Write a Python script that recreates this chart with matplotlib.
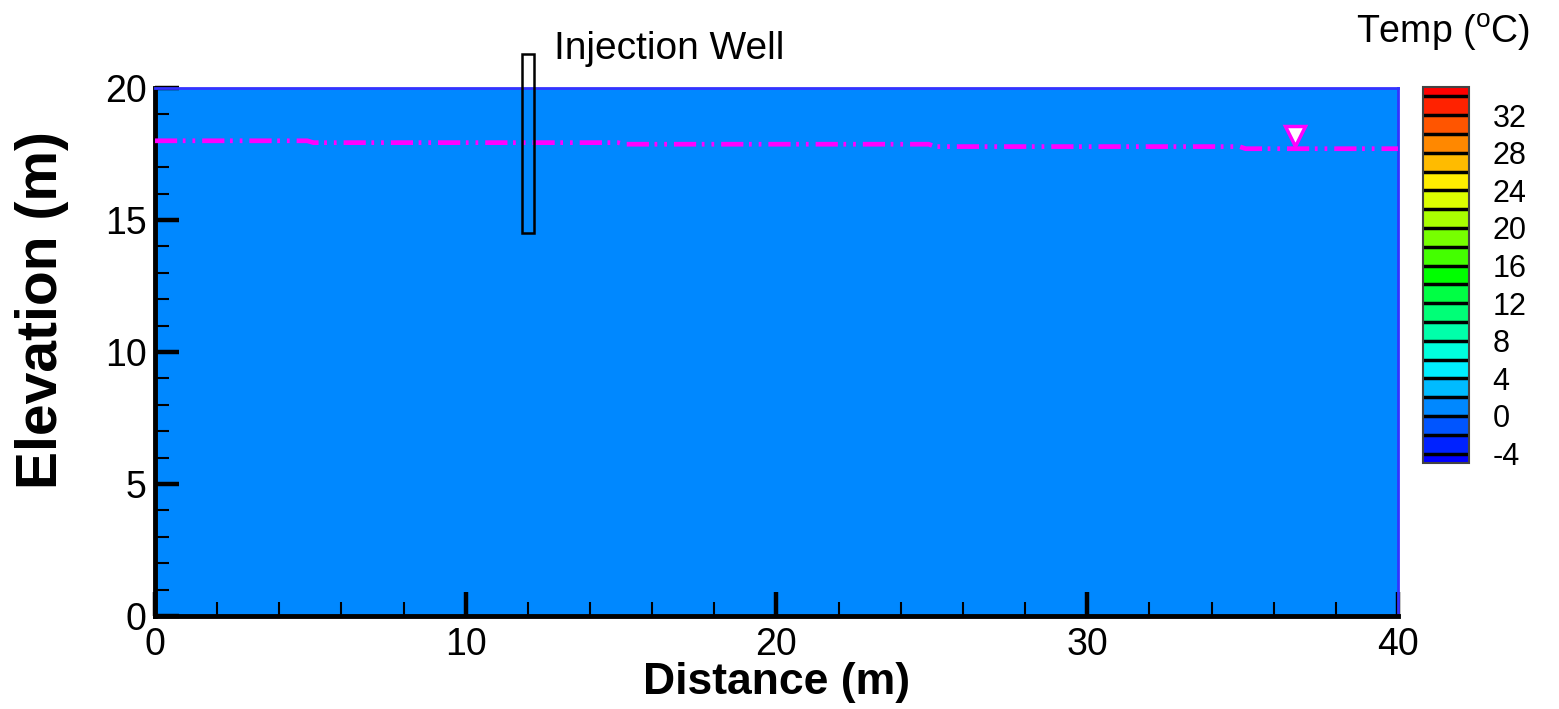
import numpy as np
import matplotlib
matplotlib.use("Agg")
import matplotlib.pyplot as plt
from matplotlib.colors import ListedColormap, BoundaryNorm
from matplotlib.patches import Rectangle

plt.rcParams['font.family'] = ['Liberation Sans', 'DejaVu Sans']
plt.rcParams['lines.scale_dashes'] = False

# Temperature field (degC) on the model section
dist_edges = [0.0, 40.0]
elev_edges = [0.0, 20.0]
temp_field = [[1.0]]

# Colour bands of the temperature legend
temp_levels = [-5, -4, -2, 0, 2, 4, 6, 8, 10, 12, 14, 16, 18, 20, 22, 24,
               26, 28, 30, 32, 34, 35]
band_colors = ['#0000ff', '#0022ff', '#0055ff', '#0088ff', '#00bbff',
               '#00eeff', '#00ffdd', '#00ffaa', '#00ff77', '#00ff44',
               '#00ff00', '#44ff00', '#77ff00', '#aaff00', '#ddff00',
               '#ffee00', '#ffbb00', '#ff8800', '#ff5500', '#ff2200',
               '#ff0000']
cbar_ticks = [-4, 0, 4, 8, 12, 16, 20, 24, 28, 32]

# Water table profile
wt_dist = [0.0, 4.9, 5.1, 14.9, 15.1, 24.9, 25.1, 34.9, 35.1, 40.0]
wt_elev = [18.0, 18.0, 17.93, 17.93, 17.87, 17.87, 17.78, 17.78, 17.70, 17.70]
wt_symbol = (36.7, 18.2)

# Injection well screen (x from, x to, bottom, top)
well = (11.8, 12.2, 14.5, 21.3)

fig = plt.figure(figsize=(15.59, 7.09), dpi=100)
ax = fig.add_axes([0.0994, 0.1312, 0.7973, 0.7447])

cmap = ListedColormap(band_colors)
norm = BoundaryNorm(temp_levels, cmap.N)
mesh = ax.pcolormesh(dist_edges, elev_edges, temp_field, cmap=cmap, norm=norm)

# water table
ax.plot(wt_dist, wt_elev, color='#ff00ff', lw=3.4,
        linestyle=(0, (16, 4, 2, 5, 2, 5)), solid_capstyle='butt',
        dash_capstyle='butt', zorder=3)
ax.plot(*wt_symbol, marker='v', ms=15, mfc='white', mec='#ff00ff', mew=2.5,
        zorder=4)

# well
x0, x1, y0, y1 = well
ax.add_patch(Rectangle((x0, y0), x1 - x0, y1 - y0, fill=False, ec='black',
                       lw=1.8, clip_on=False, zorder=5))
ax.text(12.85, 21.1, 'Injection Well', fontsize=28, ha='left', va='baseline')

ax.set_xlim(0, 40)
ax.set_ylim(0, 20)
ax.set_xticks([0, 10, 20, 30, 40])
ax.set_xticks(np.arange(0, 41, 2), minor=True)
ax.set_yticks([0, 5, 10, 15, 20])
ax.set_yticks(np.arange(0, 21, 1), minor=True)
ax.tick_params(which='major', direction='in', length=17, width=3.2,
               labelsize=27, colors='black')
ax.tick_params(which='minor', direction='in', length=10, width=1.5)
ax.tick_params(axis='x', which='major', pad=8)
ax.tick_params(axis='y', which='major', pad=6)

for side in ['left', 'bottom']:
    ax.spines[side].set_linewidth(3.5)
    ax.spines[side].set_color('black')
for side in ['top', 'right']:
    ax.spines[side].set_linewidth(2)
    ax.spines[side].set_color('#3333ff')

fig.text(0.498, 0.037, 'Distance (m)', fontsize=32, fontweight='bold',
         ha='center', va='center')
fig.text(0.027, 0.563, 'Elevation (m)', fontsize=41, fontweight='bold',
         rotation=90, ha='center', va='center')

# legend bar
cax = fig.add_axes([0.9128, 0.347, 0.0295, 0.5303])
cbar = fig.colorbar(mesh, cax=cax, boundaries=temp_levels, ticks=cbar_ticks,
                    drawedges=True, spacing='proportional')
cbar.dividers.set_color('black')
cbar.dividers.set_linewidth(2.5)
cbar.outline.set_edgecolor('#444444')
cbar.outline.set_linewidth(1.5)
cbar.ax.minorticks_off()
cbar.ax.tick_params(which='both', length=0, pad=17, labelsize=22)
cbar.ax.set_yticklabels([str(t) for t in cbar_ticks])
fig.text(0.9257, 0.955, 'Temp ($\\mathregular{^oC}$)', fontsize=27,
         ha='center', va='center')

fig.savefig('out.png', dpi=100)
